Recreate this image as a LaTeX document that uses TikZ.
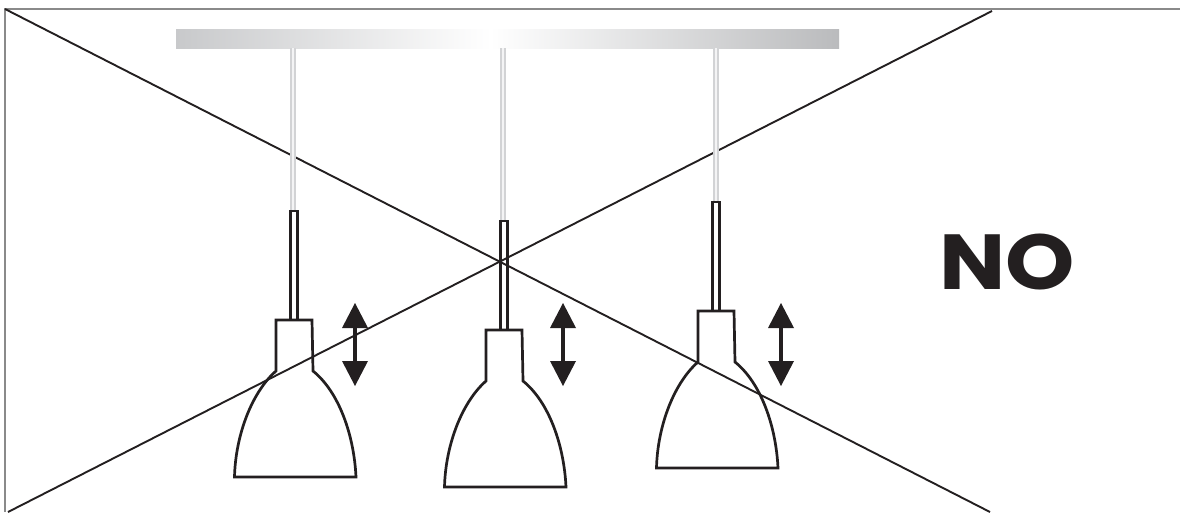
\documentclass[tikz,border=0pt]{standalone}
\usepackage{fontspec}
\setmainfont{Poppins}
\newfontfamily\nofont[FakeStretch=1.13]{Poppins Bold}
\definecolor{ink}{HTML}{231F20}
\definecolor{framegray}{HTML}{8A8A8A}
\definecolor{wiregray}{HTML}{D2D3D5}
\definecolor{wirecore}{HTML}{F4F4F5}
\definecolor{barl}{HTML}{C8C9CB}
\definecolor{barr}{HTML}{BABBBD}
\tikzset{
  x=1pt,y=-1pt,
  frameline/.style={draw=framegray,line width=1.8pt},
  crossline/.style={draw=ink,line width=1.9pt},
  wire/.style={draw=wiregray,line width=5.6pt},
  wirecentre/.style={draw=wirecore,line width=1.6pt},
  lampline/.style={draw=ink,line width=2.7pt,line join=miter},
  arrowstem/.style={draw=ink,line width=3.2pt},
  arrowhead/.style={fill=ink,draw=none},
  lamp/.pic={
    \draw[lampline] (-3.5,-109) rectangle (3.5,0);
    \draw[lampline] (-18,51) -- (-18,0) -- (18,0) -- (19,51)
      .. controls (45,72) and (60,115) .. (62,157)
      -- (-59.5,157)
      .. controls (-58.5,115) and (-42,72) .. (-18,51) -- cycle;
  },
  updown/.pic={
    \draw[arrowstem] (0,-58) -- (0,-25);
    \fill[arrowhead] (0,-83) -- (13,-58) -- (-13,-58) -- cycle;
    \fill[arrowhead] (0,0) -- (13,-25) -- (-13,-25) -- cycle;
  },
}
\begin{document}
\begin{tikzpicture}
  \useasboundingbox (0,0) rectangle (1180,512);
  \fill[white] (0,0) rectangle (1180,512);
  % ceiling bar
  \shade[left color=barl,right color=white] (176,29) rectangle (491,48);
  \shade[left color=white,right color=barr] (490,29) rectangle (839,48);
  % frame
  \draw[frameline] (5,512) -- (5,9) -- (1180,9);
  % crossing lines
  \coordinate (c1) at (5,9); \coordinate (c2) at (990,512);
  \coordinate (c3) at (992,11); \coordinate (c4) at (8,512);
  \draw[crossline] (c1) -- (c2);
  \draw[crossline] (c3) -- (c4);
  % wires
  \coordinate (w1a) at (293,48); \coordinate (w1b) at (293,211);
  \coordinate (w2a) at (503,48); \coordinate (w2b) at (503,221);
  \coordinate (w3a) at (716,48); \coordinate (w3b) at (716,202);
  \foreach \a/\b in {w1a/w1b,w2a/w2b,w3a/w3b}{
    \draw[wire] (\a) -- (\b);
    \draw[wirecentre] (\a) -- (\b);
  }
  % lamps
  \pic at (294,320) {lamp};
  \pic at (504,330) {lamp};
  \pic at (716,311) {lamp};
  % arrows
  \pic at (355,386) {updown};
  \pic at (563,386) {updown};
  \pic at (781,386) {updown};
  % label
  \node[text=ink,font=\nofont\fontsize{78}{78}\selectfont,inner sep=0pt,anchor=base west] (no) at (939,289) {NO};
\end{tikzpicture}
\end{document}
